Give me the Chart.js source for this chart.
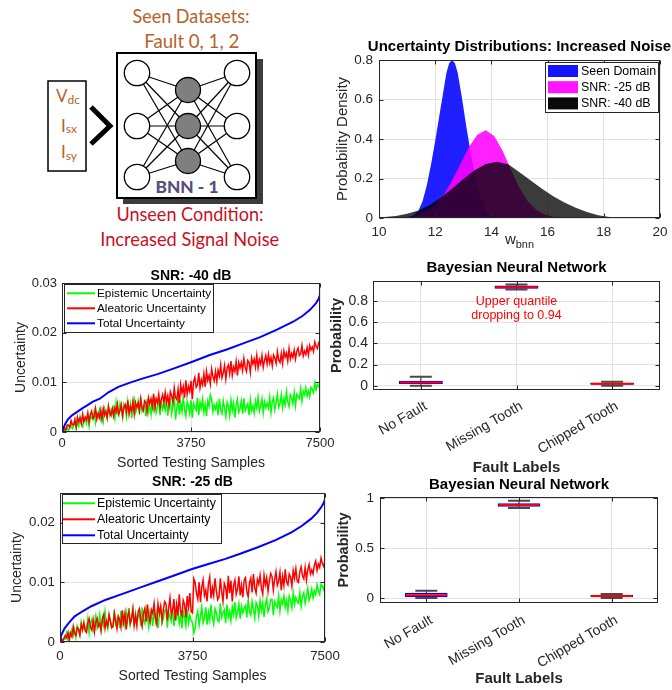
<!DOCTYPE html>
<html><head><meta charset="utf-8">
<script src="https://cdn.jsdelivr.net/npm/chart.js@4.4.1/dist/chart.umd.min.js"></script>
<style>
html,body{margin:0;padding:0;background:#fff;}
#page{position:relative;width:672px;height:690px;overflow:hidden;background:#fff;}
canvas{position:absolute;}
svg{position:absolute;left:0;top:0;}
</style></head><body><div id="page">
<svg width="330" height="255" viewBox="0 0 330 255" font-family="Lato, 'Open Sans', sans-serif">
  <text x="191" y="22.7" text-anchor="middle" font-size="19" fill="#b5622a" textLength="117" lengthAdjust="spacingAndGlyphs">Seen Datasets:</text>
  <text x="191.7" y="47.7" text-anchor="middle" font-size="19" fill="#b5622a" textLength="95" lengthAdjust="spacingAndGlyphs">Fault 0, 1, 2</text>
  <rect x="123" y="59" width="140" height="145" fill="#3c3c3c"/>
  <rect x="117" y="53" width="139" height="145" fill="#fff" stroke="#000" stroke-width="2"/>
  <g stroke="#000" stroke-width="1.2">
    <line x1="137" y1="73" x2="188" y2="90"/><line x1="137" y1="73" x2="188" y2="126"/><line x1="137" y1="73" x2="188" y2="161"/>
    <line x1="137" y1="126" x2="188" y2="90"/><line x1="137" y1="126" x2="188" y2="126"/><line x1="137" y1="126" x2="188" y2="161"/>
    <line x1="137" y1="177" x2="188" y2="90"/><line x1="137" y1="177" x2="188" y2="126"/><line x1="137" y1="177" x2="188" y2="161"/>
    <line x1="188" y1="90" x2="237" y2="73"/><line x1="188" y1="90" x2="237" y2="126"/><line x1="188" y1="90" x2="237" y2="177"/>
    <line x1="188" y1="126" x2="237" y2="73"/><line x1="188" y1="126" x2="237" y2="126"/><line x1="188" y1="126" x2="237" y2="177"/>
    <line x1="188" y1="161" x2="237" y2="73"/><line x1="188" y1="161" x2="237" y2="126"/><line x1="188" y1="161" x2="237" y2="177"/>
  </g>
  <g stroke="#000" stroke-width="1.3" fill="#fff">
    <circle cx="137" cy="73" r="12.7"/><circle cx="137" cy="126" r="12.7"/><circle cx="137" cy="177" r="12.7"/>
    <circle cx="237" cy="73" r="12.7"/><circle cx="237" cy="126" r="12.7"/><circle cx="237" cy="177" r="12.7"/>
  </g>
  <g stroke="#000" stroke-width="1.3" fill="#7f7f7f">
    <circle cx="188" cy="90" r="12.5"/><circle cx="188" cy="126" r="12.5"/><circle cx="188" cy="161" r="12.5"/>
  </g>
  <text x="187" y="193.3" text-anchor="middle" font-size="16" font-weight="900" fill="#5a4c7e" textLength="63" lengthAdjust="spacingAndGlyphs">BNN - 1</text>
  <rect x="48" y="81" width="38" height="90" fill="#fff" stroke="#000" stroke-width="1.5"/>
  <text x="56" y="101.7" font-size="17" fill="#b5622a">V<tspan font-size="12" dy="2">dc</tspan></text>
  <text x="61" y="131.7" font-size="17" fill="#b5622a">I<tspan font-size="12" dy="1.5">sx</tspan></text>
  <text x="61" y="158.3" font-size="17" fill="#b5622a">I<tspan font-size="12" dy="1.5">sy</tspan></text>
  <polyline points="91,107 110,126 91,144" fill="none" stroke="#000" stroke-width="5"/>
  <text x="190" y="220.7" text-anchor="middle" font-size="19" fill="#c8101e" textLength="147" lengthAdjust="spacingAndGlyphs">Unseen Condition:</text>
  <text x="189.7" y="246" text-anchor="middle" font-size="19" fill="#c8101e" textLength="179" lengthAdjust="spacingAndGlyphs">Increased Signal Noise</text>
</svg>
<canvas id="cA" width="342" height="225" style="left:330px;top:30px"></canvas>
<canvas id="cB" width="345" height="215" style="left:0px;top:258px"></canvas>
<canvas id="cD" width="345" height="218" style="left:0px;top:472px"></canvas>
<canvas id="cC" width="342" height="220" style="left:330px;top:255px"></canvas>
<canvas id="cE" width="342" height="218" style="left:330px;top:472px"></canvas>
</div>
<script>
// ================= DATA =================
// Uncertainty values are stored in units of 1e-4 (the y axes are in the same units;
// their tick labels show the real values 0.01, 0.02, ...).
const seriesNames = ['Epistemic Uncertainty', 'Aleatoric Uncertainty', 'Total Uncertainty'];
const sampleStep = 37.5; // sorted testing samples between stored values
const sampleTicks = [0, 3750, 7500];
const sampleTickLabels = ['0', '3750', '7500'];

// SNR: -40 dB
const epi40 = [0,5,1,5,9,2,9,17,7,12,
24,6,20,12,30,16,11,28,25,17,
35,12,33,28,25,42,19,38,31,44,
26,39,22,47,38,27,52,34,45,39,
49,28,60,39,33,57,44,28,56,49,
31,62,42,57,28,54,65,39,47,62,
36,71,42,50,56,32,67,41,53,35,
62,46,70,39,50,66,34,60,46,55,
44,68,33,57,65,37,53,70,25,48,
69,35,57,41,72,45,32,61,53,37,
64,29,58,50,44,69,34,60,48,66,
40,55,32,62,52,75,65,41,55,46,
57,34,67,45,37,63,48,31,60,52,
33,64,43,58,29,55,66,40,47,62,
37,68,43,51,57,34,65,43,53,38,
62,48,70,42,52,67,39,61,49,58,
48,70,39,61,69,45,60,76,50,57,
75,49,67,55,81,60,51,75,69,57,
79,53,76,71,67,87,62,82,75,89,
72,83,71,90,86,79,99,85,96,92,
96];
const ale40 = [0,2,8,4,14,14,9,23,15,14,
25,11,30,21,28,17,36,21,30,25,
38,20,35,42,27,31,47,26,37,29,
44,25,47,34,42,29,51,39,33,47,
32,49,40,56,36,43,55,33,50,55,
40,64,36,51,43,62,36,59,50,58,
43,67,49,43,63,60,41,69,57,67,
51,77,49,67,59,76,50,66,75,58,
80,60,73,53,81,73,60,89,69,65,
86,58,95,78,91,69,104,76,92,82,
103,66,101,110,90,95,119,89,105,95,
117,91,122,104,114,97,127,112,103,122,
102,124,113,135,109,119,134,107,129,135,
117,143,114,131,122,142,114,140,129,140,
124,148,130,122,144,140,120,149,137,147,
131,154,129,146,137,154,130,144,154,137,
156,139,150,133,155,149,138,162,145,140,
158,138,163,151,159,143,168,147,158,150,
165,147,162,169,154,157,174,153,163,156,
170,155,174,165,171,162,181,172,168,180,
177];
const totX40 = [0,40,100,180,300,430,600,720,900,1100,1350,1640,2000,2360,2800,3300,3770,4300,4790,5250,5760,6250,6720,7000,7210,7380,7460,7500];
const tot40 = [0,8,17,26,34,40,48,53,61,67,80,91,100,108,117,129,141,155,166,178,191,206,222,234,246,259,268,276];
const unc40Ticks = [0, 100, 200, 300];
const unc40TickLabels = ['0', '0.01', '0.02', '0.03'];

// SNR: -25 dB
const epi25 = [0,1,5,5,5,15,4,16,13,21,
11,21,8,27,22,14,33,19,29,24,
21,39,15,32,38,20,31,44,23,30,
46,21,39,27,51,31,22,44,38,26,
25,54,31,38,43,23,52,31,41,27,
50,36,57,29,40,54,26,48,35,44,
48,27,58,38,31,55,41,25,52,45,
27,56,36,50,24,46,57,32,39,53,
55,24,49,42,35,58,27,49,40,55,
31,45,23,51,41,27,55,32,45,36,
32,15,23,44,52,28,42,59,32,40,
58,29,50,36,63,41,30,56,49,36,
34,65,41,48,54,32,63,41,51,36,
59,46,67,41,51,64,39,60,49,57,
61,41,71,51,45,68,55,40,66,60,
43,70,53,66,42,63,73,51,57,71,
72,45,68,62,58,77,52,71,64,77,
58,70,53,77,69,57,82,63,75,68,
65,83,60,77,83,65,77,90,70,77,
89,74,86,80,96,86,80,97,94,88,
97];
const ale25 = [0,5,1,6,11,7,16,3,15,9,
26,14,11,24,21,11,29,21,33,19,
16,32,39,25,20,37,17,33,40,26,
31,19,39,46,23,35,27,46,34,24,
27,48,34,22,43,38,25,53,33,48,
21,43,51,31,39,56,28,44,27,51,
56,36,26,48,56,34,63,42,33,54,
48,65,40,30,64,48,60,36,54,68,
64,36,57,74,45,54,72,36,63,45,
80,52,44,70,63,41,77,59,82,51,
49,106,100,81,72,100,67,92,104,78,
87,68,97,109,73,91,78,107,86,71,
76,107,85,68,98,91,72,111,82,103,
68,95,104,80,89,110,78,95,75,104,
108,85,76,99,107,83,114,91,82,105,
97,112,90,80,112,96,108,85,102,115,
110,87,105,118,95,102,117,87,110,95,
122,101,96,114,109,94,120,107,123,102,
100,118,126,111,106,125,104,121,130,114,
121,114,129,136,120,131,125,141,132,127,
137];
const totX25 = [0,30,130,250,415,650,887,1300,1830,2300,2770,3250,3717,4200,4660,5100,5600,6100,6550,6850,7110,7280,7400,7470,7500];
const tot25 = [0,11,23,32,43,52,60,71,82,92,102,112,122,131,139,148,159,171,184,195,207,217,227,234,240];
const unc25Ticks = [0, 100, 200];
const unc25TickLabels = ['0', '0.01', '0.02'];

// Uncertainty distributions
const densityNames = ['Seen Domain', 'SNR: -25 dB', 'SNR: -40 dB'];
const seenX = [10,10.6,11.0,11.2,11.4,11.55,11.7,11.85,12.0,12.15,12.3,12.4,12.5,12.6,12.7,12.8,12.95,13.1,13.25,13.4,13.55,13.7,13.85,14.0,14.3,14.7,20];
const seenY = [0,0,.004,.012,.035,.085,.165,.27,.39,.52,.65,.735,.785,.80,.785,.735,.61,.47,.34,.225,.135,.07,.03,.012,.002,0,0];
const snr25X = [10,10.5,11.1,11.4,11.7,12.0,12.3,12.6,12.9,13.2,13.5,13.8,14.1,14.4,14.7,15.0,15.3,15.6,15.9,16.2,16.5,17,20];
const snr25Y = [0,.0007,.006,.015,.033,.065,.117,.19,.275,.359,.421,.444,.415,.340,.243,.152,.083,.040,.017,.006,.002,0,0];
const snr40X = [10,10.2,10.6,11.0,11.4,11.8,12.2,12.6,13.0,13.4,13.8,14.2,14.6,15.0,15.4,15.8,16.2,16.6,17.0,17.4,17.8,18.2,18.6,19,20];
const snr40Y = [.003,.005,.0105,.021,.0386,.066,.103,.148,.197,.242,.274,.285,.272,.232,.19,.148,.11,.078,.052,.03,.014,.005,.0015,.0005,0];
const wTicks = [10, 12, 14, 16, 18, 20];
const wTickLabels = ['10', '12', '14', '16', '18', '20'];
const pdTicks = [0, 0.2, 0.4, 0.6, 0.8];
const pdTickLabels = ['0', '0.2', '0.4', '0.6', '0.8'];

// Bayesian Neural Network box plots
const faultLabels = ['No Fault', 'Missing Tooth', 'Chipped Tooth'];
const box40Low  = [0.0,   0.910, 0.0];
const box40Q1   = [0.016, 0.916, 0.010];
const box40Med  = [0.030, 0.930, 0.020];
const box40Q3   = [0.047, 0.947, 0.028];
const box40High = [0.085, 0.957, 0.037];
const prob40Ticks = [0, 0.2, 0.4, 0.6, 0.8];
const prob40TickLabels = ['0', '0.2', '0.4', '0.6', '0.8'];
const box25Low  = [0.0,   0.900, 0.0];
const box25Q1   = [0.007, 0.913, 0.007];
const box25Med  = [0.027, 0.930, 0.020];
const box25Q3   = [0.053, 0.947, 0.033];
const box25High = [0.073, 0.973, 0.040];
const prob25Ticks = [0, 0.5, 1];
const prob25TickLabels = ['0', '0.5', '1'];

// ================= STYLE / HELPERS =================
const FONT = "'Liberation Sans', Arial, Helvetica, sans-serif";
const AX = '#262626';
const GRID = '#e2e2e2';

function fitX(h) { return s => { s.height = h; s.paddingLeft = 0; s.paddingRight = 0; s.paddingTop = 0; s.paddingBottom = 0; }; }
function fitY(w) { return s => { s.width = w; s.paddingLeft = 0; s.paddingRight = 0; s.paddingTop = 0; s.paddingBottom = 0; }; }
function useTicks(vals) { return s => { s.ticks = vals.map(v => ({ value: v })); }; }

function linAxis(min, max, vals, labels, size, pad, fit) {
  return {
    type: 'linear', min, max,
    afterBuildTicks: useTicks(vals),
    afterFit: fit,
    ticks: { autoSkip: false, callback: (v, i) => labels[i], font: { family: FONT, size }, color: AX, padding: pad },
    grid: { color: GRID, drawTicks: false, lineWidth: 1 },
    border: { display: false }
  };
}

function deco(cfg) {
  return {
    id: 'deco',
    afterDraw(chart) {
      const ctx = chart.ctx, a = chart.chartArea;
      const xs = chart.scales.x, ys = chart.scales.y;
      ctx.save();
      ctx.strokeStyle = AX; ctx.lineWidth = 1;
      const L = Math.round(a.left) + 0.5, R = Math.round(a.right) - 0.5;
      const T = Math.round(a.top) + 0.5, B = Math.round(a.bottom) - 0.5;
      const tl = 4;
      ctx.beginPath();
      xs.ticks.forEach((t, i) => { const p = Math.round(xs.getPixelForTick(i)) + 0.5; ctx.moveTo(p, B); ctx.lineTo(p, B - tl); ctx.moveTo(p, T); ctx.lineTo(p, T + tl); });
      ys.ticks.forEach((t, i) => { const p = Math.round(ys.getPixelForTick(i)) + 0.5; ctx.moveTo(L, p); ctx.lineTo(L + tl, p); ctx.moveTo(R, p); ctx.lineTo(R - tl, p); });
      ctx.stroke();
      ctx.strokeRect(L, T, R - L, B - T);
      const cx = (a.left + a.right) / 2, cy = (a.top + a.bottom) / 2;
      ctx.textBaseline = 'middle';
      if (cfg.title) {
        ctx.font = `bold ${cfg.title.size}px ${FONT}`; ctx.fillStyle = '#000'; ctx.textAlign = 'center';
        ctx.fillText(cfg.title.text, cx, cfg.title.y);
      }
      if (cfg.xlabel) {
        const xl = cfg.xlabel, f = `${xl.bold ? 'bold ' : ''}${xl.size}px ${FONT}`;
        ctx.fillStyle = AX;
        if (xl.sub) {
          ctx.font = f; const w1 = ctx.measureText(xl.text).width;
          ctx.font = `${xl.subSize}px ${FONT}`; const w2 = ctx.measureText(xl.sub).width;
          const x0 = cx - (w1 + w2) / 2;
          ctx.textAlign = 'left';
          ctx.fillText(xl.sub, x0 + w1, xl.y + xl.subDy);
          ctx.font = f; ctx.fillText(xl.text, x0, xl.y);
        } else {
          ctx.font = f; ctx.textAlign = 'center'; ctx.fillText(xl.text, cx, xl.y);
        }
      }
      if (cfg.ylabel) {
        const yl = cfg.ylabel;
        ctx.save(); ctx.translate(yl.x, cy); ctx.rotate(-Math.PI / 2);
        ctx.font = `${yl.bold ? 'bold ' : ''}${yl.size}px ${FONT}`; ctx.fillStyle = AX; ctx.textAlign = 'center';
        ctx.fillText(yl.text, 0, 0); ctx.restore();
      }
      if (cfg.legend) {
        const g = cfg.legend;
        ctx.fillStyle = '#fff'; ctx.fillRect(g.x, g.y, g.w, g.h);
        ctx.strokeStyle = AX; ctx.lineWidth = 1; ctx.strokeRect(g.x + 0.5, g.y + 0.5, g.w, g.h);
        ctx.font = `${g.size}px ${FONT}`; ctx.textAlign = 'left';
        chart.data.datasets.forEach((d, i) => {
          const yy = g.y + g.row0 + i * g.step;
          if (g.kind === 'patch') {
            ctx.fillStyle = d.legendColor; ctx.fillRect(g.s0, yy - g.ph / 2, g.s1 - g.s0, g.ph);
          } else {
            ctx.strokeStyle = d.borderColor; ctx.lineWidth = 2;
            ctx.beginPath(); ctx.moveTo(g.s0, yy); ctx.lineTo(g.s1, yy); ctx.stroke();
          }
          ctx.fillStyle = '#000'; ctx.fillText(d.label, g.tx, yy + 0.5);
        });
      }
      if (cfg.notes) {
        cfg.notes.forEach(n => {
          ctx.font = `${n.size}px ${FONT}`; ctx.fillStyle = n.color; ctx.textAlign = 'center';
          ctx.fillText(n.text, xs.getPixelForValue(n.x), ys.getPixelForValue(n.y));
        });
      }
      ctx.restore();
    }
  };
}

function boxExtras(low, med, high) {
  return {
    id: 'boxExtras',
    beforeDatasetsDraw(chart) {
      const ctx = chart.ctx, xs = chart.scales.x, ys = chart.scales.y;
      ctx.save(); ctx.strokeStyle = '#4a4a4a';
      low.forEach((lo, i) => {
        const x = xs.getPixelForValue(i);
        ctx.lineWidth = 1.2; ctx.beginPath();
        ctx.moveTo(x, ys.getPixelForValue(lo)); ctx.lineTo(x, ys.getPixelForValue(high[i])); ctx.stroke();
        ctx.lineWidth = 2; ctx.beginPath();
        [lo, high[i]].forEach(v => { const y = ys.getPixelForValue(v); ctx.moveTo(x - 11, y); ctx.lineTo(x + 11, y); });
        ctx.stroke();
      });
      ctx.restore();
    },
    afterDatasetsDraw(chart) {
      const ctx = chart.ctx, ys = chart.scales.y, meta = chart.getDatasetMeta(0);
      ctx.save(); ctx.strokeStyle = '#ff0000'; ctx.lineWidth = 2;
      med.forEach((m, i) => {
        const bar = meta.data[i], y = ys.getPixelForValue(m);
        ctx.beginPath(); ctx.moveTo(bar.x - bar.width / 2 + 1, y); ctx.lineTo(bar.x + bar.width / 2 - 1, y); ctx.stroke();
      });
      ctx.restore();
    }
  };
}

const baseOpts = {
  responsive: false, animation: false, events: [],
  plugins: { legend: { display: false }, title: { display: false }, tooltip: { enabled: false } },
  elements: { point: { radius: 0 }, line: { tension: 0 } }
};

// ================= UNCERTAINTY LINE CHARTS =================
function uncChart(id, epi, ale, totX, tot, yMax, yTicks, yLabels, lay, txt) {
  const pts = arr => arr.map((v, i) => ({ x: i * sampleStep, y: v }));
  return new Chart(document.getElementById(id), {
    type: 'line',
    data: { datasets: [
      { label: seriesNames[0], data: pts(epi), borderColor: '#00ff00', borderWidth: 1.5, order: 3 },
      { label: seriesNames[1], data: pts(ale), borderColor: '#ff0000', borderWidth: 1.5, order: 2 },
      { label: seriesNames[2], data: totX.map((x, i) => ({ x, y: tot[i] })), borderColor: '#0000ff', borderWidth: 2, order: 1 }
    ] },
    options: Object.assign({}, baseOpts, {
      layout: { padding: { top: lay.top, right: lay.right, left: 0, bottom: 0 } },
      scales: {
        x: linAxis(0, 7500, sampleTicks, sampleTickLabels, lay.tick, lay.xpad, fitX(lay.B)),
        y: linAxis(0, yMax, yTicks, yLabels, lay.tick, lay.ypad, fitY(lay.L))
      }
    }),
    plugins: [deco(txt)]
  });
}

uncChart('cB', epi40, ale40, totX40, tot40, 300, unc40Ticks, unc40TickLabels,
  { top: 25, right: 25, B: 41, L: 62, tick: 13, xpad: 4, ypad: 5 },
  { title: { text: 'SNR: -40 dB', size: 14, y: 18 },
    xlabel: { text: 'Sorted Testing Samples', size: 14, y: 205 },
    ylabel: { text: 'Uncertainty', size: 14, x: 20.7 },
    legend: { x: 64, y: 26, w: 149, h: 48, row0: 9.3, step: 15, s0: 67, s1: 95, tx: 97, size: 11.8, kind: 'line' } });

uncChart('cD', epi25, ale25, totX25, tot25, 250, unc25Ticks, unc25TickLabels,
  { top: 21, right: 20, B: 48, L: 60, tick: 13.3, xpad: 6.5, ypad: 5 },
  { title: { text: 'SNR: -25 dB', size: 14, y: 10 },
    xlabel: { text: 'Sorted Testing Samples', size: 14, y: 204 },
    ylabel: { text: 'Uncertainty', size: 14, x: 16.7 },
    legend: { x: 62, y: 22, w: 159, h: 49, row0: 9.3, step: 16, s0: 63, s1: 95, tx: 97, size: 12.3, kind: 'line' } });

// ================= DENSITY CHART =================
const toPts = (xs, ys) => xs.map((x, i) => ({ x, y: ys[i] }));
new Chart(document.getElementById('cA'), {
  type: 'line',
  data: { datasets: [
    { label: densityNames[0], data: toPts(seenX, seenY), fill: 'origin', backgroundColor: 'rgba(0,0,255,0.88)', legendColor: 'rgb(20,20,255)', borderWidth: 0, order: 3 },
    { label: densityNames[1], data: toPts(snr25X, snr25Y), fill: 'origin', backgroundColor: 'rgba(255,0,255,0.88)', legendColor: 'rgb(255,20,255)', borderWidth: 0, order: 2 },
    { label: densityNames[2], data: toPts(snr40X, snr40Y), fill: 'origin', backgroundColor: 'rgba(0,0,0,0.77)', legendColor: 'rgb(10,10,10)', borderWidth: 0, order: 1 }
  ] },
  options: Object.assign({}, baseOpts, {
    layout: { padding: { top: 30, right: 12, left: 0, bottom: 0 } },
    scales: {
      x: linAxis(10, 20, wTicks, wTickLabels, 13.5, 6, fitX(37)),
      y: linAxis(0, 0.8, pdTicks, pdTickLabels, 13.5, 6, fitY(49))
    }
  }),
  plugins: [deco({
    title: { text: 'Uncertainty Distributions: Increased Noise', size: 15, y: 17 },
    xlabel: { text: 'w', sub: 'bnn', size: 15, subSize: 11, subDy: 5, y: 210 },
    ylabel: { text: 'Probability Density', size: 15, x: 13 },
    legend: { x: 215, y: 32, w: 113, h: 50, row0: 9, step: 16.2, s0: 218, s1: 248, ph: 12, tx: 251, size: 12.4, kind: 'patch' }
  })]
});

// ================= BOX PLOTS =================
function boxChart(id, q1, q3, low, med, high, yMin, yMax, yTicks, yLabels, lay, txt) {
  return new Chart(document.getElementById(id), {
    type: 'bar',
    data: { labels: faultLabels, datasets: [{
      data: q1.map((v, i) => [v, q3[i]]),
      backgroundColor: 'rgba(0,0,255,0.18)', borderColor: '#0000ff', borderWidth: 1.5, borderSkipped: false,
      barPercentage: 0.46, categoryPercentage: 1
    }] },
    options: Object.assign({}, baseOpts, {
      layout: { padding: { top: lay.top, right: lay.right, left: 0, bottom: 0 } },
      scales: {
        x: { type: 'category', offset: true, afterFit: fitX(lay.B),
             ticks: { autoSkip: false, minRotation: 30, maxRotation: 30, labelOffset: 5, font: { family: FONT, size: 14 }, color: AX, padding: lay.xpad },
             grid: { offset: false, color: GRID, drawTicks: false }, border: { display: false } },
        y: linAxis(yMin, yMax, yTicks, yLabels, lay.tick, lay.ypad, fitY(lay.L))
      }
    }),
    plugins: [boxExtras(low, med, high), deco(txt)]
  });
}

boxChart('cC', box40Q1, box40Q3, box40Low, box40Med, box40High, -0.04, 0.99, prob40Ticks, prob40TickLabels,
  { top: 26, right: 12, B: 85, L: 43, tick: 14, xpad: 8, ypad: 5 },
  { title: { text: 'Bayesian Neural Network', size: 15, y: 13 },
    xlabel: { text: 'Fault Labels', size: 15, bold: true, y: 213 },
    ylabel: { text: 'Probability', size: 14.5, bold: true, x: 7 },
    notes: [ { text: 'Upper quantile', x: 1, y: 0.80, size: 12.5, color: '#ff0000' },
             { text: 'dropping to 0.94', x: 1, y: 0.66, size: 12.5, color: '#ff0000' } ] });

boxChart('cE', box25Q1, box25Q3, box25Low, box25Med, box25High, -0.05, 1.01, prob25Ticks, prob25TickLabels,
  { top: 25, right: 14, B: 87, L: 50, tick: 13.5, xpad: 9, ypad: 6 },
  { title: { text: 'Bayesian Neural Network', size: 15, y: 13 },
    xlabel: { text: 'Fault Labels', size: 15, bold: true, y: 207 },
    ylabel: { text: 'Probability', size: 14.5, bold: true, x: 14 } });
</script>
</body></html>
